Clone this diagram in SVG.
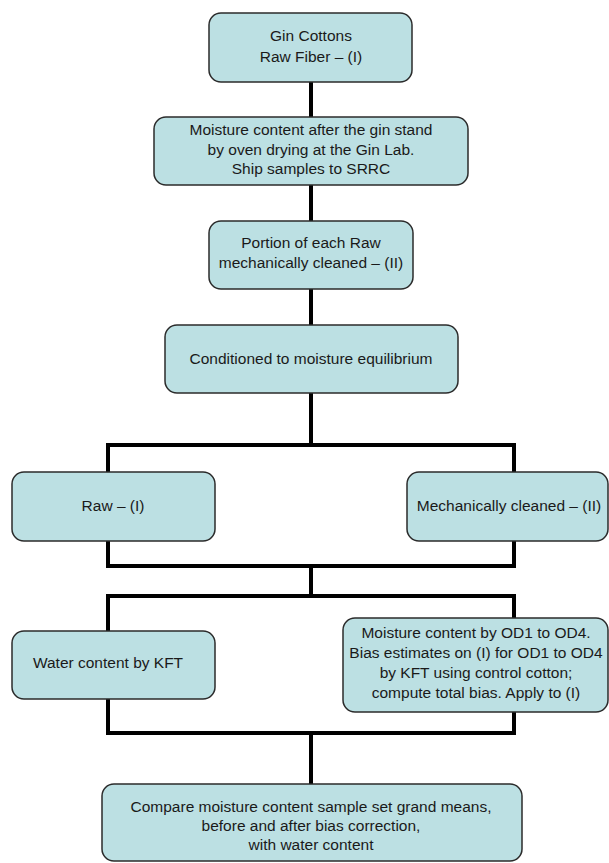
<svg xmlns="http://www.w3.org/2000/svg" width="609" height="863" viewBox="0 0 609 863">
<style>
.box{fill:#bce0e3;stroke:#2b2b2b;stroke-width:1.5}
.t{font-family:"Liberation Sans",Arial,sans-serif;font-size:15.5px;fill:#1a1a1a;text-anchor:middle}
.c{fill:none;stroke:#000;stroke-width:4;stroke-linejoin:miter;stroke-linecap:butt}
</style>
<rect width="609" height="863" fill="#fff"/>
<g id="connectors">
<path class="c" d="M311 82V117"/>
<path class="c" d="M311 185V221"/>
<path class="c" d="M311 289V325"/>
<path class="c" d="M311 393V445"/>
<path class="c" d="M108 472V445H514V472"/>
<path class="c" d="M108 541V566H514V541"/>
<path class="c" d="M311 566V596"/>
<path class="c" d="M108 631V596H514V618"/>
<path class="c" d="M108 699V733H514V712"/>
<path class="c" d="M311 733V784"/>
</g>
<g id="n1"><rect class="box" x="209" y="13" width="203" height="69" rx="12"/>
<text class="t" x="311" y="41">Gin Cottons</text><text class="t" x="311" y="62">Raw Fiber – (I)</text></g>
<g id="n2"><rect class="box" x="154" y="117" width="314" height="68" rx="12"/>
<text class="t" x="311" y="135">Moisture content after the gin stand</text><text class="t" x="311" y="155">by oven drying at the Gin Lab.</text><text class="t" x="311" y="174">Ship samples to SRRC</text></g>
<g id="n3"><rect class="box" x="209" y="221" width="204" height="68" rx="12"/>
<text class="t" x="311" y="248">Portion of each Raw</text><text class="t" x="311" y="268">mechanically cleaned – (II)</text></g>
<g id="n4"><rect class="box" x="165" y="325" width="293" height="68" rx="12"/>
<text class="t" x="311" y="364">Conditioned to moisture equilibrium</text></g>
<g id="n5"><rect class="box" x="12" y="472" width="203" height="69" rx="12"/>
<text class="t" x="113" y="511">Raw – (I)</text></g>
<g id="n6"><rect class="box" x="407" y="472" width="201" height="69" rx="12"/>
<text class="t" x="509" y="511">Mechanically cleaned – (II)</text></g>
<g id="n7"><rect class="box" x="12" y="631" width="203" height="68" rx="12"/>
<text class="t" x="108" y="668">Water content by KFT</text></g>
<g id="n8"><rect class="box" x="343" y="618" width="265" height="94" rx="12"/>
<text class="t" x="476" y="638">Moisture content by OD1 to OD4.</text><text class="t" x="476" y="658">Bias estimates on (I) for OD1 to OD4</text><text class="t" x="476" y="678">by KFT using control cotton;</text><text class="t" x="476" y="698">compute total bias. Apply to (I)</text></g>
<g id="n9"><rect class="box" x="102" y="784" width="420" height="77" rx="12"/>
<text class="t" x="311" y="812">Compare moisture content sample set grand means,</text><text class="t" x="311" y="831">before and after bias correction,</text><text class="t" x="311" y="850">with water content</text></g>
</svg>
